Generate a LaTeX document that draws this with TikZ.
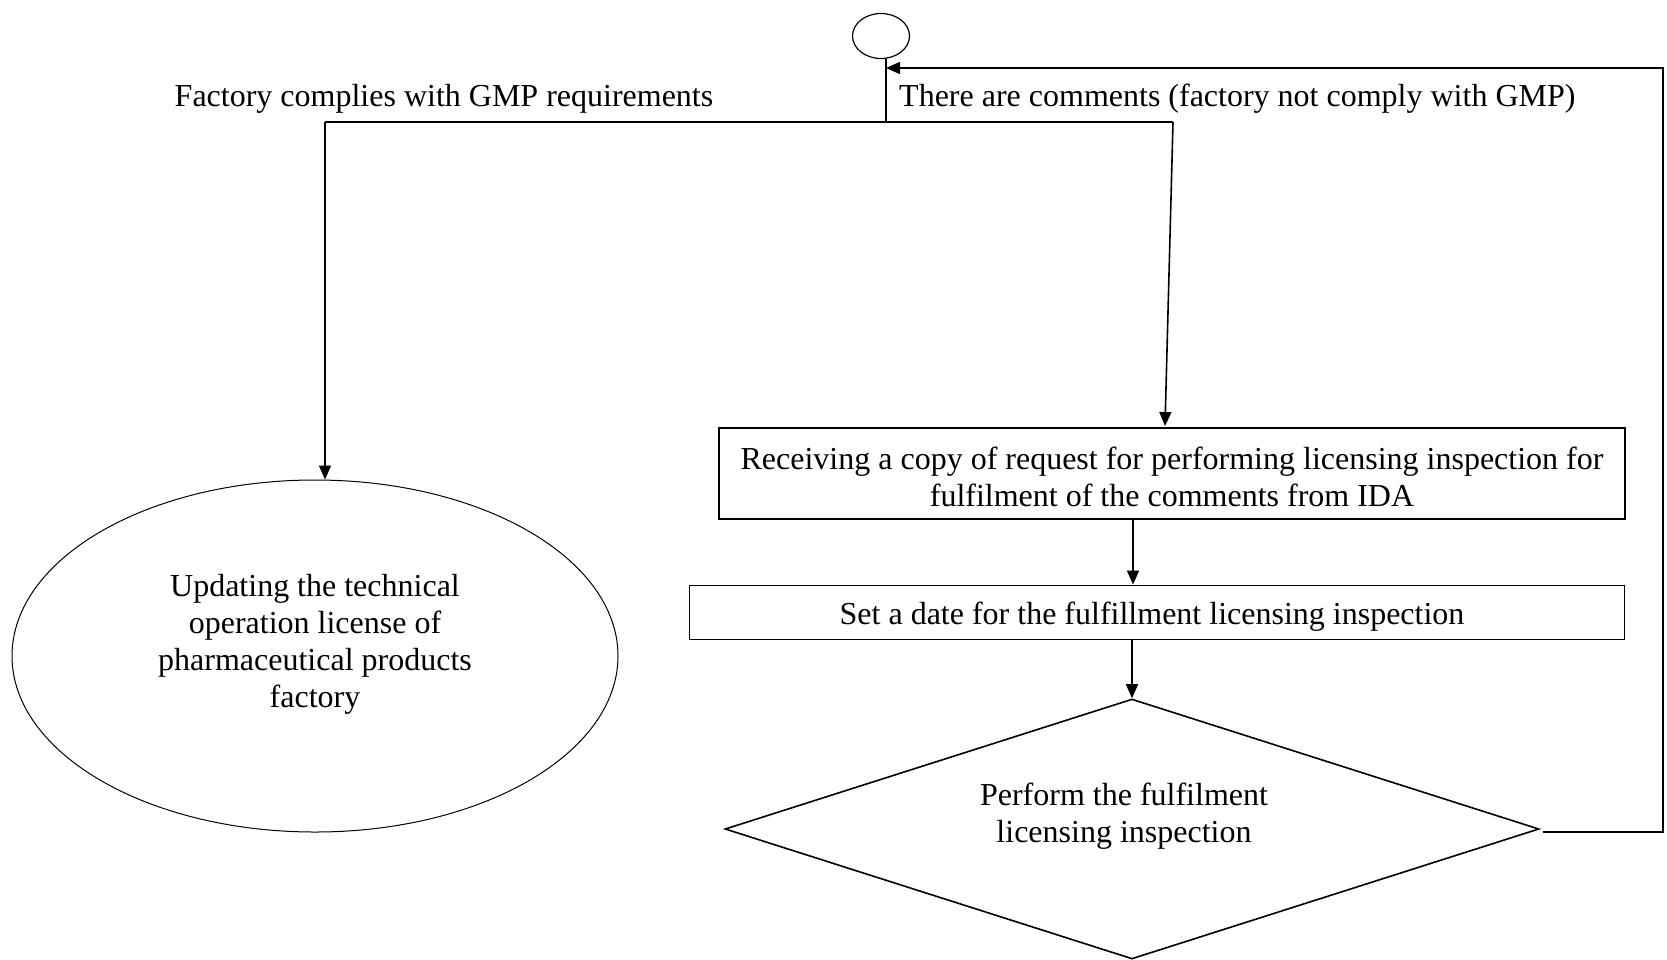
\documentclass[tikz,border=0pt]{standalone}
\usepackage{fontspec}
\setmainfont{Liberation Serif}
\usetikzlibrary{arrows.meta,shapes.geometric}
\begin{document}
\begin{tikzpicture}[x=1pt,y=-1pt,
  every node/.style={font=\fontsize{32}{37}\selectfont, inner sep=0pt},
  conn/.style={line width=1.6pt},
  arr/.style={conn, -{Triangle[length=14pt,width=12pt]}},
  lbl/.style={align=center}]
\useasboundingbox (0,0) rectangle (1667,959);
% start circle
\node[draw, ellipse, line width=1.2pt, minimum width=57pt, minimum height=45pt] (start) at (881,36) {};
% labels
\node[lbl] (lyes) at (444,99) {Factory complies with GMP requirements};
\node[lbl, anchor=west] (lno) at (899,99) {There are comments (factory not comply with GMP)};
% ellipse
\node[draw, ellipse, line width=1pt, minimum width=606pt, minimum height=352pt] (ell) at (315,656) {};
\node[lbl] (elltext) at (315,644) {Updating the technical\\operation license of\\pharmaceutical products\\factory};
% box 1
\node[draw, line width=1.6pt, rectangle, minimum width=906pt, minimum height=91pt] (box1) at (1172,473.5) {};
\node[lbl] (box1text) at (1172,477) {Receiving a copy of request for performing licensing inspection for\\fulfilment of the comments from IDA};
% box 2
\node[draw, line width=1pt, rectangle, minimum width=935pt, minimum height=54pt] (box2) at (1156.5,612) {};
\node[lbl] (box2text) at (1152,617) {Set a date for the fulfillment licensing inspection};
% diamond
\node[draw, diamond, line width=1.6pt, minimum width=814pt, minimum height=260pt, shape aspect=3.13] (dia) at (1132,829) {};
\node[lbl] (diatext) at (1124,816) {Perform the fulfilment\\licensing inspection};
% branch lines
\coordinate (lft) at (325,122);
\coordinate (rgt) at (1173,122);
\coordinate (b1in) at (1165,426);
\coordinate (ax) at (1133,0);
\coordinate (rx) at (1663,0);
\coordinate (back) at (886,68);
\draw[conn] (start.south -| back) -- (back |- lft);
\draw[conn] (lft) -- (rgt);
\draw[arr] (lft) -- (lft |- ell.north);
\draw[arr] (rgt) -- (b1in);
\draw[arr] (box1.south -| ax) -- (box2.north -| ax);
\draw[arr] (box2.south -| dia.north) -- (dia.north);
\draw[arr] (dia.east) ++(3,3) -- (rx |- 0,832) -- (rx |- back) -- (back);
\end{tikzpicture}
\end{document}
